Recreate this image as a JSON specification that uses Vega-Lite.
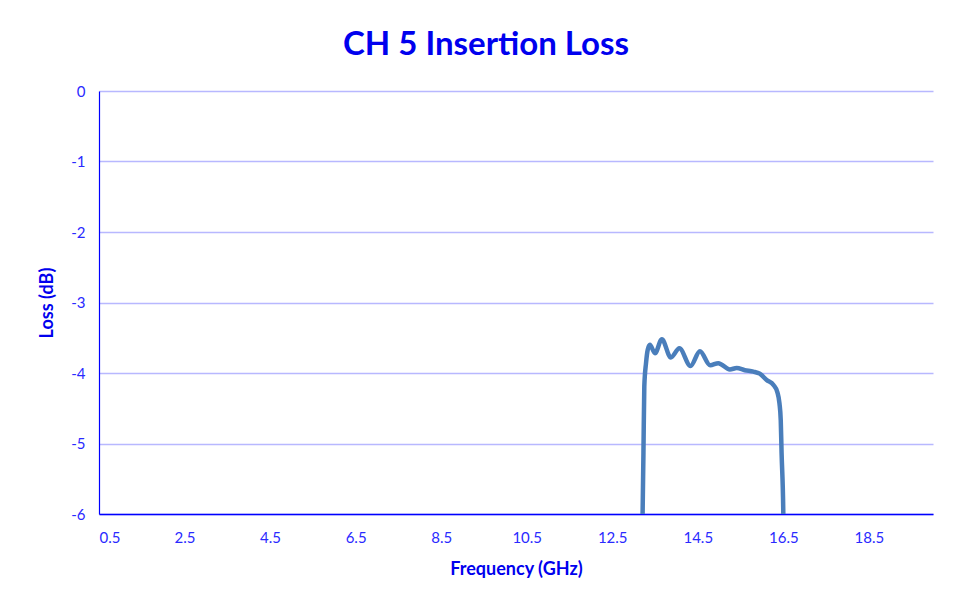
{
  "$schema": "https://vega.github.io/schema/vega-lite/v6.json",
  "width": 834,
  "height": 423,
  "autosize": {"type": "none"},
  "padding": {"left": 99, "top": 91, "right": 23, "bottom": 90},
  "background": "white",
  "title": {
    "text": "CH 5 Insertion Loss",
    "font": "Lato",
    "fontSize": 33,
    "fontWeight": "bold",
    "color": "#0000ee",
    "anchor": "middle",
    "dx": -30,
    "offset": 22
  },
  "config": {
    "view": {"stroke": null},
    "font": "Lato"
  },
  "data": {
    "values": [
      {"f": 13.19, "loss": -7.0},
      {"f": 13.21, "loss": -6.0},
      {"f": 13.23, "loss": -5.13},
      {"f": 13.25, "loss": -4.19},
      {"f": 13.29, "loss": -3.86},
      {"f": 13.33, "loss": -3.67},
      {"f": 13.38, "loss": -3.60},
      {"f": 13.5, "loss": -3.72},
      {"f": 13.66, "loss": -3.52},
      {"f": 13.87, "loss": -3.78},
      {"f": 14.07, "loss": -3.65},
      {"f": 14.33, "loss": -3.90},
      {"f": 14.55, "loss": -3.69},
      {"f": 14.79, "loss": -3.89},
      {"f": 14.98, "loss": -3.86},
      {"f": 15.25, "loss": -3.95},
      {"f": 15.41, "loss": -3.93},
      {"f": 15.6, "loss": -3.96},
      {"f": 15.8, "loss": -3.98},
      {"f": 15.95, "loss": -4.01},
      {"f": 16.11, "loss": -4.10},
      {"f": 16.27, "loss": -4.17},
      {"f": 16.36, "loss": -4.27},
      {"f": 16.41, "loss": -4.43},
      {"f": 16.44, "loss": -4.67},
      {"f": 16.46, "loss": -5.14},
      {"f": 16.5, "loss": -6.0},
      {"f": 16.51, "loss": -7.0}
    ]
  },
  "mark": {
    "type": "line",
    "color": "#4a7ebb",
    "strokeWidth": 4.5,
    "interpolate": "monotone",
    "clip": true
  },
  "encoding": {
    "x": {
      "field": "f",
      "type": "quantitative",
      "scale": {"domain": [0.5, 20], "nice": false, "zero": false},
      "axis": {
        "title": "Frequency (GHz)",
        "values": [0.5, 2.5, 4.5, 6.5, 8.5, 10.5, 12.5, 14.5, 16.5, 18.5],
        "format": ".1f",
        "grid": false,
        "ticks": false,
        "domainColor": "#0000ff",
        "domainWidth": 1.5,
        "labelColor": "#2a2aff",
        "labelFontSize": 15,
        "labelPadding": 16,
        "labelFont": "Lato",
        "titleColor": "#0000ee",
        "titleFontSize": 18,
        "titleFontWeight": "bold",
        "titlePadding": 15,
        "titleFont": "Lato"
      }
    },
    "y": {
      "field": "loss",
      "type": "quantitative",
      "scale": {"domain": [-6, 0], "nice": false},
      "axis": {
        "title": "Loss (dB)",
        "values": [-6, -5, -4, -3, -2, -1, 0],
        "labelExpr": "'' + datum.value",
        "grid": true,
        "gridColor": "#b8b8ff",
        "gridWidth": 1.5,
        "ticks": false,
        "domainColor": "#0000ff",
        "domainWidth": 1.2,
        "labelColor": "#2a2aff",
        "labelFontSize": 15,
        "labelPadding": 14,
        "labelFont": "Lato",
        "titleColor": "#0000ee",
        "titleFontSize": 18,
        "titleFontWeight": "bold",
        "titlePadding": 14,
        "titleFont": "Lato"
      }
    }
  }
}
